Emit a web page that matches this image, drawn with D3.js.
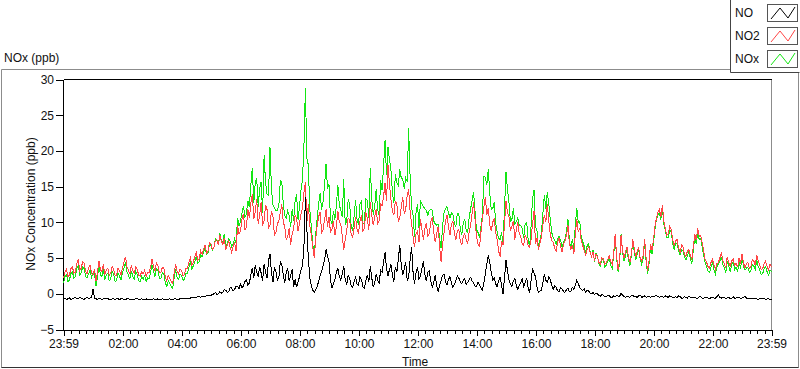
<!DOCTYPE html>
<html lang="en">
<head>
<meta charset="UTF-8">
<title>NOx (ppb)</title>
<script src="https://d3js.org/d3.v7.min.js"></script>
<style>
    body { margin: 0; background: #fff; }
    svg text { font-family: "Liberation Sans", Arial, sans-serif; font-size: 12px; fill: #111; }
    .trace { fill: none; stroke-width: 1px; shape-rendering: crispEdges; }
    .axis path, .axis line { stroke: #000; shape-rendering: crispEdges; }
</style>
</head>
<body>
<svg width="800" height="369"></svg>
<script>
// series: one sample every 3 minutes, starting 23:59
const seriesNames = ["NO", "NO2", "NOx"];
const seriesColors = ["#000000", "#ff4646", "#14e614"];
const xTickLabels = ["23:59", "02:00", "04:00", "06:00", "08:00", "10:00", "12:00",
    "14:00", "16:00", "18:00", "20:00", "22:00", "23:59"];
const yTicks = [-5, 0, 5, 10, 15, 20, 25, 30];

const no = [
    -0.7,-0.6,-0.8,-0.7,-0.6,-0.8,-0.7,-0.6,-0.5,-0.7,-0.7,-0.5,-0.6,-0.7,-0.8,-0.6,-0.5,-0.7,-0.6,-0.5,
    0.6,-0.6,-0.7,-0.8,-0.6,-0.7,-0.8,-0.7,-0.7,-0.6,-0.6,-0.8,-0.8,-0.7,-0.7,-0.8,-0.7,-0.7,-0.8,-0.7,
    -0.7,-0.8,-0.8,-0.7,-0.7,-0.8,-0.8,-0.8,-0.8,-0.7,-0.7,-0.8,-0.8,-0.7,-0.8,-0.8,-0.7,-0.8,-0.8,-0.8,
    -0.8,-0.7,-0.8,-0.8,-0.7,-0.8,-0.8,-0.7,-0.8,-0.8,-0.8,-0.8,-0.7,-0.8,-0.8,-0.7,-0.7,-0.8,-0.8,-0.7,
    -0.7,-0.6,-0.7,-0.7,-0.6,-0.7,-0.6,-0.5,-0.5,-0.6,-0.5,-0.4,-0.4,-0.5,-0.3,-0.4,-0.4,-0.2,-0.2,-0.3,
    -0.2,-0.1,0.0,0.2,-0.1,0.0,0.3,0.1,0.2,0.6,0.5,0.2,0.3,0.9,0.8,0.4,0.6,1.1,1.0,0.7,
    1.4,0.9,1.1,1.7,1.9,1.2,1.5,2.6,3.6,2.2,4.0,3.0,2.4,3.8,2.9,1.8,4.2,3.1,2.2,4.6,
    5.6,3.0,1.6,3.8,3.1,1.9,2.2,4.5,4.1,2.6,1.5,3.0,3.6,1.8,2.5,3.4,1.0,2.0,0.9,1.6,
    2.4,3.3,3.9,6.5,13.5,9.0,5.0,2.2,1.2,0.5,0.2,0.6,1.0,1.8,2.6,3.2,3.9,4.8,6.2,5.3,
    4.5,1.9,0.8,1.4,2.0,3.0,3.6,2.4,1.9,2.8,3.9,2.0,1.3,2.6,2.2,1.1,0.9,1.7,2.3,1.4,
    1.2,2.4,2.0,1.0,0.8,1.9,2.6,1.6,3.9,2.2,0.9,1.5,2.8,1.9,1.5,3.3,3.0,4.4,5.8,3.6,
    2.5,3.4,4.1,2.6,1.7,3.8,3.0,4.9,6.8,4.0,2.6,3.5,4.4,1.9,2.2,4.8,6.6,3.0,1.4,2.9,
    3.8,2.0,2.5,3.6,4.6,2.7,1.8,3.0,3.2,1.8,0.9,1.6,2.6,1.2,0.3,1.1,1.9,2.6,2.8,1.7,
    1.2,2.0,2.4,1.5,0.9,1.3,1.9,2.5,2.2,1.7,1.4,1.9,2.1,1.3,1.6,2.0,2.3,1.8,1.5,1.1,
    1.0,1.6,1.3,0.8,0.5,1.5,2.8,4.2,5.4,4.4,3.0,1.9,2.2,1.4,1.0,1.8,2.4,1.2,0.0,2.3,
    4.7,3.2,2.0,1.3,1.0,1.8,2.2,1.1,0.6,1.2,1.6,2.1,1.0,1.6,2.2,0.9,0.1,1.9,3.6,2.9,
    2.4,1.0,0.2,0.4,0.5,1.6,2.8,1.9,1.6,2.4,2.0,1.2,0.6,1.1,0.9,0.4,0.3,0.9,0.7,0.3,
    0.2,0.6,0.8,0.3,0.4,0.9,0.6,1.2,1.9,1.4,0.9,0.6,0.5,0.7,0.2,0.5,0.4,0.1,0.0,0.2,
    -0.1,0.1,0.0,-0.2,-0.3,-0.1,-0.2,-0.4,-0.4,-0.2,-0.3,-0.5,-0.5,-0.3,-0.4,-0.2,-0.3,-0.4,0.1,-0.2,
    -0.4,-0.5,-0.3,-0.4,-0.5,-0.3,-0.2,-0.4,-0.4,-0.5,-0.3,-0.2,-0.5,-0.4,-0.3,-0.5,-0.4,-0.3,-0.5,-0.4,
    -0.4,-0.3,-0.2,-0.4,-0.5,-0.4,-0.4,-0.5,-0.3,-0.4,-0.5,-0.3,-0.4,-0.5,-0.6,-0.4,-0.5,-0.3,-0.4,-0.6,
    -0.6,-0.4,-0.5,-0.6,-0.3,-0.5,-0.6,-0.5,-0.5,-0.6,-0.6,-0.4,-0.4,-0.6,-0.6,-0.5,-0.5,-0.6,-0.7,-0.5,
    -0.5,-0.6,-0.6,-0.4,-0.2,-0.5,-0.6,-0.5,-0.5,-0.7,-0.6,-0.5,-0.7,-0.6,-0.4,-0.6,-0.6,-0.5,-0.5,-0.7,
    -0.6,-0.5,-0.3,-0.6,-0.7,-0.6,-0.6,-0.7,-0.7,-0.6,-0.7,-0.8,-0.6,-0.7,-0.7,-0.6,-0.8,-0.7,-0.7,-0.8,-0.8
];

const no2 = [
    2.2,3.0,3.4,2.4,2.6,3.5,3.8,2.9,3.0,4.2,4.8,3.2,3.6,4.5,4.3,3.1,2.8,3.6,4.0,2.9,
    2.6,3.5,1.8,3.0,4.6,3.4,3.1,4.1,2.7,3.3,3.6,2.6,2.9,3.8,3.4,2.5,2.6,3.6,3.2,2.7,
    3.6,4.4,5.2,3.8,3.3,2.8,4.0,3.2,2.9,3.8,3.4,2.6,2.5,3.1,2.8,3.3,2.4,3.0,2.9,3.7,
    4.8,3.9,3.2,4.3,4.0,3.0,2.9,3.7,3.6,2.4,1.8,2.6,2.2,1.7,1.5,2.9,4.1,3.1,2.8,3.5,
    3.3,2.5,2.7,3.6,3.5,4.4,5.0,4.0,4.4,5.2,5.8,4.7,4.9,6.0,5.5,6.3,6.8,5.7,6.0,7.2,
    7.0,6.2,6.5,7.5,7.6,6.8,8.2,7.4,6.9,7.8,6.1,6.8,7.4,6.5,5.8,6.6,7.1,6.0,9.6,8.4,
    8.8,10.4,11.2,9.0,9.3,11.8,10.6,12.6,14.0,10.5,11.5,13.2,9.8,11.0,12.8,9.5,10.3,12.4,11.8,9.2,
    9.6,11.6,10.8,8.2,8.6,9.8,10.2,11.4,12.5,10.0,9.4,7.6,8.0,9.2,6.8,8.4,9.0,11.0,10.6,8.8,
    9.8,11.2,12.0,14.2,15.6,10.0,12.5,9.5,8.2,6.5,5.0,7.8,9.6,10.8,11.5,8.6,9.0,10.4,11.8,9.4,
    10.8,8.6,9.0,10.2,8.2,9.4,11.6,10.0,9.8,8.0,6.2,7.6,8.8,10.6,10.4,8.4,7.9,9.2,10.8,9.0,
    8.4,10.2,11.0,8.8,9.2,11.4,10.5,9.0,12.8,11.0,9.6,10.8,11.8,9.8,10.2,12.6,12.3,13.6,15.5,13.0,
    18.0,15.4,13.2,11.6,11.0,13.0,12.5,10.2,10.6,12.2,13.5,11.2,11.8,13.8,14.6,11.5,9.8,8.0,6.5,8.4,
    8.8,7.2,10.5,9.0,7.6,9.2,9.9,8.0,8.5,10.0,10.8,8.6,7.2,8.4,9.4,6.6,4.5,6.8,8.6,10.2,
    11.0,9.4,8.2,9.8,10.2,8.6,7.5,8.8,9.0,7.4,6.8,8.0,8.4,7.6,7.0,8.6,9.6,11.2,12.8,10.4,
    8.0,7.0,6.5,8.6,10.5,12.2,13.5,11.0,12.0,9.6,8.8,10.0,10.6,8.6,7.6,6.0,5.2,7.4,6.8,9.8,
    13.0,11.4,10.8,8.8,9.4,10.2,7.6,9.0,10.0,8.4,8.0,7.0,6.8,8.2,7.8,6.8,6.5,7.6,9.8,11.6,
    7.0,7.8,6.2,7.0,8.0,9.6,11.0,10.0,12.6,10.2,8.4,7.4,7.2,6.4,6.0,7.2,7.8,6.6,5.8,7.0,
    7.4,8.2,9.6,7.0,6.2,6.8,5.6,8.4,10.5,8.6,9.2,7.4,6.8,6.0,5.4,6.2,6.6,5.8,5.2,5.9,
    4.6,5.6,5.2,4.4,4.2,5.0,4.9,4.1,4.4,4.8,5.3,4.5,4.1,5.6,8.4,5.2,3.4,4.6,8.2,6.0,
    5.0,5.8,6.6,5.2,4.4,5.6,7.6,6.2,5.2,6.0,6.4,5.0,4.6,5.4,7.6,5.0,3.2,4.6,7.0,6.2,
    7.6,9.4,10.6,11.4,11.8,10.8,12.4,10.2,9.2,8.2,8.4,9.4,9.0,7.6,6.8,7.4,7.6,6.4,5.8,6.8,
    6.6,5.6,5.2,6.0,6.2,5.4,4.8,6.6,8.4,7.6,9.2,8.0,8.2,7.2,6.0,4.8,4.4,3.8,3.6,4.4,
    4.8,4.0,3.4,4.2,4.4,5.0,5.8,4.6,4.2,3.6,5.2,4.4,3.8,4.6,4.9,4.0,4.3,3.7,5.0,4.2,
    5.6,4.4,3.6,4.2,4.4,3.6,3.8,4.8,4.6,4.0,5.4,4.6,4.0,3.4,3.5,4.2,4.6,3.8,3.3,4.1,3.8
];

const nox = [
    1.5,2.4,2.7,1.7,1.9,2.8,3.1,2.2,2.4,3.5,4.0,2.6,2.9,3.8,3.5,2.4,2.3,2.8,3.3,2.3,
    2.9,2.8,1.1,2.3,3.9,2.7,2.4,3.4,2.0,2.6,2.9,1.8,2.1,3.1,2.7,1.7,1.9,2.9,2.4,2.0,
    2.9,3.6,4.4,3.1,2.6,2.1,3.2,2.4,2.1,3.1,2.7,1.8,1.7,2.4,2.0,2.5,1.7,2.2,2.1,2.9,
    4.0,3.2,2.4,3.5,3.3,2.2,2.1,3.0,2.8,1.6,1.0,1.8,1.5,1.0,0.7,2.2,3.4,2.3,2.0,2.8,
    2.6,1.9,2.0,2.9,2.9,3.7,4.4,3.5,3.9,4.5,5.3,4.3,4.5,5.5,5.2,5.9,6.4,5.5,5.8,6.9,
    6.8,6.1,6.5,7.7,7.5,6.8,8.5,7.5,7.1,8.4,6.6,7.0,7.7,7.4,6.6,7.0,7.7,7.1,10.6,9.5,
    10.2,11.3,12.3,10.7,11.2,13.0,12.1,15.2,17.6,12.7,15.5,16.2,12.2,14.8,15.7,11.3,19.4,15.5,14.0,13.8,
    20.5,14.6,12.4,12.0,11.7,11.7,12.4,15.9,15.6,12.6,10.9,10.6,11.6,11.0,9.3,11.8,10.2,13.0,13.9,10.4,
    12.2,14.5,15.9,20.7,28.8,19.0,18.0,11.7,9.4,7.0,5.2,8.4,10.6,12.6,14.1,11.8,12.9,15.2,18.2,14.7,
    15.3,10.5,9.8,11.6,10.4,12.4,15.2,12.4,11.7,10.8,16.0,9.6,10.1,13.2,12.6,9.5,8.8,10.9,13.1,10.4,
    9.6,12.6,13.0,9.8,10.0,13.3,13.1,10.6,17.6,13.2,11.1,12.3,14.6,11.7,11.0,15.9,14.5,18.0,21.5,16.6,
    20.5,18.8,17.3,14.2,12.7,16.8,15.5,15.1,17.4,16.2,16.1,14.7,16.2,15.7,23.2,16.3,12.0,11.0,7.9,11.3,
    12.6,9.2,13.0,12.6,12.2,11.9,11.7,11.0,11.7,11.8,11.7,10.2,9.8,9.6,9.7,7.7,6.4,9.4,11.4,11.9,
    12.2,11.4,10.6,11.3,11.1,9.9,9.4,11.3,11.2,9.1,8.2,9.9,10.5,8.9,8.6,10.6,11.9,13.0,14.3,11.5,
    9.0,8.6,7.8,9.4,11.0,16.4,16.3,15.2,17.4,14.0,11.8,11.9,12.8,10.0,8.6,7.8,7.6,8.6,6.8,12.1,
    17.0,14.6,12.8,10.1,10.4,12.0,9.8,10.1,10.6,9.6,9.6,9.1,7.8,9.8,10.0,7.7,6.6,9.5,13.4,14.5,
    9.4,8.8,6.4,7.4,8.5,11.2,13.8,11.9,14.2,12.6,10.4,8.6,7.8,7.5,6.9,7.6,8.1,7.5,6.5,7.3,
    7.6,8.8,10.4,7.3,6.6,7.7,6.2,9.6,12.0,10.0,10.1,8.0,7.3,6.7,5.6,6.7,7.0,5.9,5.2,6.1,
    4.5,5.7,5.2,4.2,3.9,4.9,4.7,3.7,4.0,4.6,5.0,4.0,3.6,5.3,8.0,5.0,3.1,4.2,8.3,5.8,
    4.6,5.3,6.3,4.8,3.9,5.3,7.4,5.8,4.8,5.5,6.1,4.8,4.1,5.0,7.3,4.5,2.8,4.3,6.5,5.6,
    7.2,9.1,10.4,11.0,11.3,10.4,12.0,9.7,8.9,7.9,7.9,8.9,8.6,7.1,6.2,7.0,7.1,6.1,5.4,6.2,
    6.0,5.2,4.7,5.4,5.9,4.9,4.2,6.1,7.9,7.0,8.6,7.6,7.8,6.6,5.4,4.3,3.8,3.2,3.0,3.7,
    4.3,3.4,2.8,3.8,4.2,4.5,5.2,4.1,3.7,2.9,4.6,3.9,3.1,4.0,4.5,3.4,3.7,3.0,4.5,3.5,
    5.0,3.9,3.3,3.6,3.7,3.0,3.2,4.1,3.9,3.4,4.7,3.8,3.4,2.7,2.8,3.5,3.8,3.1,2.6,3.3,3.1
];

const startTime = new Date(2020, 0, 1, 23, 59);
const endTime = d3.timeMinute.offset(startTime, 24 * 60);
const stepMinutes = 3;
const timeAt = i => d3.timeMinute.offset(startTime, i * stepMinutes);

const svg = d3.select("svg");

const plot = {left: 63.5, right: 771.5, top: 79.5, bottom: 329.5};

const x = d3.scaleTime().domain([startTime, endTime]).range([plot.left, plot.right]);
const y = d3.scaleLinear().domain([-5, 30]).range([plot.bottom, plot.top]);

// outer panel frame
svg.append("path")
    .attr("d", "M730,69.5 H1.5 V367.5 H798.5 V72")
    .attr("fill", "none")
    .attr("stroke", "#8c8c8c");
svg.append("line")
    .attr("x1", 1.5).attr("x2", 798.5).attr("y1", 367.5).attr("y2", 367.5)
    .attr("stroke", "#333");

svg.append("text").attr("x", 4).attr("y", 62).text("NOx (ppb)");

// plot area
svg.append("line")
    .attr("x1", plot.left).attr("x2", plot.right).attr("y1", plot.top).attr("y2", plot.top)
    .attr("stroke", "#000").style("shape-rendering", "crispEdges");
svg.append("line")
    .attr("x1", plot.right).attr("x2", plot.right).attr("y1", plot.top).attr("y2", plot.bottom + 1)
    .attr("stroke", "#8c8c8c").style("shape-rendering", "crispEdges");

// y axis
const yAxis = svg.append("g")
    .attr("class", "axis")
    .attr("transform", "translate(" + (plot.left - 0.5) + ",0)")
    .call(d3.axisLeft(y).tickValues(yTicks).tickSize(7).tickSizeOuter(0).tickPadding(2));
yAxis.select(".domain").attr("d", "M0," + plot.top + "V" + (plot.bottom + 1));

svg.append("text")
    .attr("transform", "translate(35,204) rotate(-90)")
    .attr("text-anchor", "middle")
    .text("NOx Concentration (ppb)");

// x axis: major + minor ticks
const majorTicks = xTickLabels.map((d, i) => {
    if (i === 0) return startTime;
    if (i === xTickLabels.length - 1) return endTime;
    const [h, m] = d.split(":").map(Number);
    return new Date(2020, 0, 2, h, m);
});
const minorTicks = d3.timeMinute.every(15).range(startTime, endTime);

const xAxisG = svg.append("g")
    .attr("class", "axis")
    .attr("transform", "translate(0," + (plot.bottom + 0.5) + ")");
xAxisG.append("g")
    .call(d3.axisBottom(x).tickValues(minorTicks).tickSize(4).tickFormat(""))
    .select(".domain").remove();
xAxisG.append("g")
    .call(d3.axisBottom(x).tickValues(majorTicks).tickSize(6).tickSizeOuter(0).tickPadding(3)
        .tickFormat((d, i) => xTickLabels[i]));

svg.append("text").attr("x", 402).attr("y", 366).text("Time");

// traces: NOx first, then NO2, NO on top
const line = d3.line()
    .x((d, i) => x(timeAt(i)))
    .y(d => y(d));

const allSeries = [no, no2, nox];
[2, 1, 0].forEach(k => {
    svg.append("path")
        .attr("class", "trace")
        .attr("d", line(allSeries[k]))
        .attr("stroke", seriesColors[k]);
});

// legend
const legend = svg.append("g");
legend.append("path")
    .attr("d", "M730.5,0 V72.5 H799.5")
    .attr("fill", "none").attr("stroke", "#444");
seriesNames.forEach((name, i) => {
    const top = 4 + i * 23;
    legend.append("text")
        .attr("x", 735).attr("y", top + 13)
        .text(name);
    legend.append("rect")
        .attr("x", 767.5).attr("y", top + 0.5)
        .attr("width", 30).attr("height", 17)
        .attr("fill", "#fff").attr("stroke", "#555");
    legend.append("path")
        .attr("d", "M771," + (top + 15) + " L780," + (top + 4) + " L788," + (top + 14) + " L795," + (top + 3))
        .attr("fill", "none")
        .attr("stroke", seriesColors[i]);
});
</script>
</body>
</html>
